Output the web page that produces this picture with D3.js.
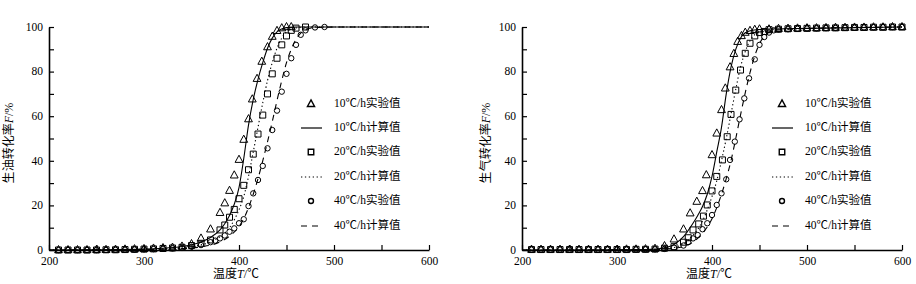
<!DOCTYPE html>
<html>
<head>
<meta charset="utf-8">
<script src="https://cdn.jsdelivr.net/npm/d3@7"></script>
<style>
  body { margin: 0; background: #fff; }
  text, tspan { font-family: "Liberation Serif", "Noto Sans CJK SC", serif; fill: #000; }
  .cjk { font-family: "Noto Sans CJK SC", sans-serif; }
</style>
</head>
<body>
<div class="chart"></div>
<script>
// shared low-temperature tail (markers every 10 degrees)
const tailT = [210, 220, 230, 240, 250, 260, 270, 280, 290, 300, 310, 320, 330, 340]
const gasTopT = [460, 470, 480, 490, 500, 510, 520, 530, 540, 550, 560, 570, 580, 590, 600]

// oil conversion, experiment
const oilExp10T = tailT.concat([350, 360, 370, 380, 385, 390, 395, 400, 405, 410, 414, 419, 424, 430, 435, 440, 445, 450, 455])
const oilExp10F = [0, 0, 0, 0, 0.1, 0.1, 0.2, 0.3, 0.4, 0.5, 0.7, 0.9, 1.1, 1.6,
  2.7, 5.2, 9.3, 16.7, 21, 26.6, 33.5, 40.5, 49.5, 58.7, 67.6, 76.8, 84.5, 91, 95.7, 98.3, 99.5, 100, 100]
const oilExp20T = tailT.concat([350, 360, 370, 380, 385, 390, 395, 400, 405, 410, 415, 420, 425, 430, 435, 440, 445, 450, 455, 460, 470])
const oilExp20F = [0, 0, 0, 0, 0, 0.1, 0.1, 0.2, 0.3, 0.4, 0.5, 0.7, 0.9, 1.2,
  2, 3, 4.5, 9, 11.2, 14.7, 18.2, 23, 29, 36, 43, 52, 60.5, 70, 79, 86, 92, 96, 98.5, 99.5, 100]
const oilExp40T = tailT.concat([350, 360, 370, 375, 380, 385, 390, 395, 400, 405, 410, 415, 420, 425, 430, 435, 440, 445, 450, 455, 460, 465, 470, 480, 490])
const oilExp40F = [0, 0, 0, 0, 0, 0, 0.1, 0.1, 0.2, 0.3, 0.4, 0.5, 0.7, 0.9,
  1.5, 2.2, 3.5, 4.2, 5.2, 6.5, 8.2, 9.7, 12, 13.8, 19.7, 25.4, 31.4, 37.7, 45.6, 53.8, 62.5, 71, 79, 86, 92, 96.5, 98.5, 99.8, 100]

// oil conversion, model
const oilCalc10T = [200, 250, 300, 320, 340, 350, 360, 370, 380, 385, 390, 395, 400, 405, 410, 415, 420, 425, 430, 435, 440, 445, 450, 460, 480, 600]
const oilCalc10F = [0, 0.1, 0.4, 0.8, 1.6, 2.3, 3.6, 5.6, 9, 11.8, 15.5, 20.5, 28, 41, 56, 67.5, 76.5, 84, 90.5, 95, 97.8, 99.1, 99.7, 100, 100, 100]
const oilCalc20T = [200, 250, 300, 340, 360, 370, 380, 390, 395, 400, 405, 410, 415, 420, 425, 430, 435, 440, 445, 450, 455, 460, 470, 480, 600]
const oilCalc20F = [0, 0.1, 0.3, 1, 2.3, 3.6, 6, 10, 13.5, 18, 24, 33, 44, 55, 66, 76, 84, 90.5, 95, 97.8, 99, 99.6, 100, 100, 100]
const oilCalc40T = [200, 250, 300, 340, 360, 380, 390, 400, 405, 410, 415, 420, 425, 430, 435, 440, 445, 450, 455, 460, 465, 470, 480, 500, 600]
const oilCalc40F = [0, 0.05, 0.2, 0.6, 1.4, 3.6, 6.2, 10.5, 14, 19, 25, 32, 40, 48.5, 57.5, 67, 76, 84, 90, 94.5, 97.3, 98.8, 99.7, 100, 100]

// gas conversion, experiment
const gasExp10T = tailT.concat([350, 360, 370, 377, 384, 390, 394, 400, 405, 410, 414, 419, 423, 427, 431, 435, 440, 445, 450], gasTopT)
const gasExp10F = [0.2, 0.2, 0.2, 0.2, 0.2, 0.2, 0.2, 0.2, 0.2, 0.2, 0.3, 0.3, 0.4, 0.6,
  1.8, 4.8, 9.3, 16.5, 21.7, 26.5, 33.6, 42.6, 52.3, 62.8, 72.5, 82, 88, 93.4, 96, 97.5, 98.3, 98.8, 99,
  99, 99.2, 99.3, 99.4, 99.5, 99.5, 99.6, 99.7, 99.7, 99.8, 99.8, 99.9, 99.9, 100, 100]
const gasExp20T = tailT.concat([350, 360, 370, 375, 380, 386, 391, 395, 400, 405, 411, 416, 420, 425, 430, 435, 440, 445, 450, 455], gasTopT)
const gasExp20F = [0.2, 0.2, 0.2, 0.2, 0.2, 0.2, 0.2, 0.2, 0.2, 0.2, 0.2, 0.3, 0.3, 0.4,
  0.8, 1.5, 3.5, 5.5, 9, 11.7, 15.2, 20.2, 26.5, 33, 40.4, 50.8, 60.8, 71.7, 80.7, 88.2, 92.7, 96, 97.5, 98,
  98.8, 99, 99.2, 99.3, 99.4, 99.5, 99.6, 99.6, 99.7, 99.8, 99.8, 99.9, 99.9, 100, 100]
const gasExp40T = tailT.concat([350, 360, 370, 375, 380, 385, 390, 395, 400, 405, 410, 415, 419, 424, 429, 434, 439, 445, 450, 455, 460, 465],
  [470, 480, 490, 500, 510, 520, 530, 540, 550, 560, 570, 580, 590, 600])
const gasExp40F = [0.2, 0.2, 0.2, 0.2, 0.2, 0.2, 0.2, 0.2, 0.2, 0.2, 0.2, 0.2, 0.3, 0.3,
  0.5, 1, 2, 3.5, 5.2, 6.7, 9.3, 12, 15.7, 20.2, 25.4, 31.7, 40.4, 48.6, 58.6, 68, 77, 85.5, 92, 95.5, 97.5, 98.5,
  98.9, 99, 99.2, 99.3, 99.4, 99.5, 99.6, 99.7, 99.7, 99.8, 99.9, 99.9, 100, 100]

// gas conversion, model
const gasCalc10T = [200, 300, 330, 340, 350, 360, 370, 380, 385, 390, 395, 400, 405, 410, 415, 420, 425, 430, 435, 440, 450, 500, 600]
const gasCalc10F = [0, 0.1, 0.2, 0.4, 1, 2.5, 6, 12, 15.5, 19.5, 25, 33, 44, 55, 70, 82, 90, 95, 97.4, 98.3, 98.9, 99.4, 100]
const gasCalc20T = [200, 300, 340, 350, 360, 370, 380, 390, 395, 400, 405, 410, 415, 420, 425, 430, 435, 440, 445, 450, 460, 500, 600]
const gasCalc20F = [0, 0.05, 0.2, 0.5, 1.1, 2.8, 6.5, 13, 18, 24, 31, 40, 50, 61, 72, 82, 89, 93.8, 96.6, 97.9, 98.7, 99.3, 100]
const gasCalc40T = [200, 300, 340, 360, 370, 380, 390, 400, 405, 410, 415, 420, 425, 430, 435, 440, 445, 450, 455, 460, 470, 500, 600]
const gasCalc40F = [0, 0.05, 0.2, 0.8, 1.6, 3.6, 7.5, 14, 19, 25, 32, 40, 50, 60.5, 70.5, 79.5, 87, 92.5, 95.8, 97.6, 98.7, 99.3, 100]

const xTicks = [200, 250, 300, 350, 400, 450, 500, 550, 600]
const yTicks = [0, 10, 20, 30, 40, 50, 60, 70, 80, 90, 100]
const legendLabels = ['10℃/h实验值', '10℃/h计算值', '20℃/h实验值', '20℃/h计算值', '40℃/h实验值', '40℃/h计算值']

const zip = (ts, fs) => ts.map((t, i) => ({t, f: fs[i]}))

const svg = d3.select('.chart')
  .append('svg')
    .attr('width', 916)
    .attr('height', 284)

const symbolPath = (type, size) => {
  const s = size
  if (type === 'tri') return `M0,${-s * 0.75}L${s * 0.65},${s * 0.45}L${-s * 0.65},${s * 0.45}Z`
  if (type === 'sq') return `M${-s / 2},${-s / 2}h${s}v${s}h${-s}Z`
  return d3.arc()({innerRadius: 0, outerRadius: s * 0.45, startAngle: 0, endAngle: 2 * Math.PI})
}

const drawPanel = (opt) => {
  const x = d3.scaleLinear().domain([200, 600]).range([opt.left, opt.left + 380])
  const y = d3.scaleLinear().domain([0, 100]).range([250, 27])
  const g = svg.append('g')

  const line = d3.line()
    .x((d) => x(d.t))
    .y((d) => y(d.f))
    .curve(d3.curveMonotoneX)

  const styles = [null, '1.3,2.6', '6,5']
  opt.calc.forEach((s, i) => {
    g.append('path')
      .datum(s)
      .attr('d', line)
      .attr('fill', 'none')
      .attr('stroke', '#000')
      .attr('stroke-width', 1.1)
      .attr('stroke-dasharray', styles[i])
  })

  const types = ['tri', 'sq', 'circ']
  opt.exp.forEach((s, i) => {
    g.append('g')
      .selectAll('path')
      .data(s)
      .enter().append('path')
        .attr('d', symbolPath(types[i], 6))
        .attr('transform', (d) => `translate(${x(d.t)},${y(d.f)})`)
        .attr('fill', 'none')
        .attr('stroke', '#000')
        .attr('stroke-width', 1)
  })

  const xAxis = d3.axisBottom(x)
    .tickValues(xTicks)
    .tickSizeInner(-5)
    .tickSizeOuter(0)
    .tickPadding(7)
    .tickFormat((d) => d % 100 === 0 ? d : '')
  const yAxis = d3.axisLeft(y)
    .tickValues(yTicks)
    .tickSizeInner(-5)
    .tickSizeOuter(0)
    .tickPadding(6)
    .tickFormat((d) => d % 20 === 0 ? d : '')

  const xa = g.append('g')
      .attr('transform', 'translate(0,250)')
      .call(xAxis)
  const ya = g.append('g')
      .attr('transform', `translate(${opt.left},0)`)
      .call(yAxis)
  ;[xa, ya].forEach((a) => {
    a.select('.domain').attr('stroke-width', 1.6)
    a.selectAll('.tick line').attr('stroke-width', 1.2)
    a.selectAll('text')
      .attr('fill', '#000')
      .style('font-family', '"Liberation Serif", serif')
      .style('font-size', '11.5px')
  })
  ya.selectAll('text').attr('dy', '0.28em')

  // axis titles
  const xt = g.append('text')
      .attr('x', opt.left + 187)
      .attr('y', 278)
      .attr('text-anchor', 'middle')
      .style('font-size', '12px')
  xt.append('tspan').attr('class', 'cjk').text('温度')
  xt.append('tspan').style('font-style', 'italic').text('T')
  xt.append('tspan').text('/℃')

  // rotated y title, one glyph group per tspan
  const yt = g.append('text')
      .attr('transform', `translate(${opt.ytX},143) rotate(-90)`)
      .attr('text-anchor', 'middle')
      .attr('dominant-baseline', 'middle')
      .style('font-size', '12px')
  Array.from(opt.yTitle).forEach((ch) => {
    yt.append('tspan').attr('class', 'cjk').attr('fill', '#000').style('fill', 'rgb(0,0,0)').text(ch)
  })
  yt.append('tspan').style('font-style', 'italic').text('F')
  yt.append('tspan').text('/%')

  // legend
  const rows = [104, 128, 152, 177, 201, 226]
  const lg = g.append('g')
  legendLabels.forEach((label, i) => {
    const cy = rows[i]
    const k = Math.floor(i / 2)
    if (i % 2 === 0) {
      lg.append('path')
        .attr('d', symbolPath(types[k], 5.5))
        .attr('transform', `translate(${opt.legX},${cy})`)
        .attr('fill', 'none')
        .attr('stroke', '#000')
        .attr('stroke-width', 1.4)
    } else {
      lg.append('line')
        .attr('x1', opt.legX - 10)
        .attr('x2', opt.legX + 11)
        .attr('y1', cy)
        .attr('y2', cy)
        .attr('stroke', '#000')
        .attr('stroke-width', 1.2)
        .attr('stroke-dasharray', styles[k])
    }
    lg.append('text')
      .attr('x', opt.legX + 23)
      .attr('y', cy)
      .attr('dominant-baseline', 'middle')
      .style('font-size', '11.5px')
      .text(label)
  })
}

drawPanel({
  left: 49,
  legX: 311,
  ytX: 10,
  yTitle: '生油转化率',
  calc: [zip(oilCalc10T, oilCalc10F), zip(oilCalc20T, oilCalc20F), zip(oilCalc40T, oilCalc40F)],
  exp: [zip(oilExp10T, oilExp10F), zip(oilExp20T, oilExp20F), zip(oilExp40T, oilExp40F)]
})

drawPanel({
  left: 522,
  legX: 782,
  ytX: 487,
  yTitle: '生气转化率',
  calc: [zip(gasCalc10T, gasCalc10F), zip(gasCalc20T, gasCalc20F), zip(gasCalc40T, gasCalc40F)],
  exp: [zip(gasExp10T, gasExp10F), zip(gasExp20T, gasExp20F), zip(gasExp40T, gasExp40F)]
})
</script>
</body>
</html>
